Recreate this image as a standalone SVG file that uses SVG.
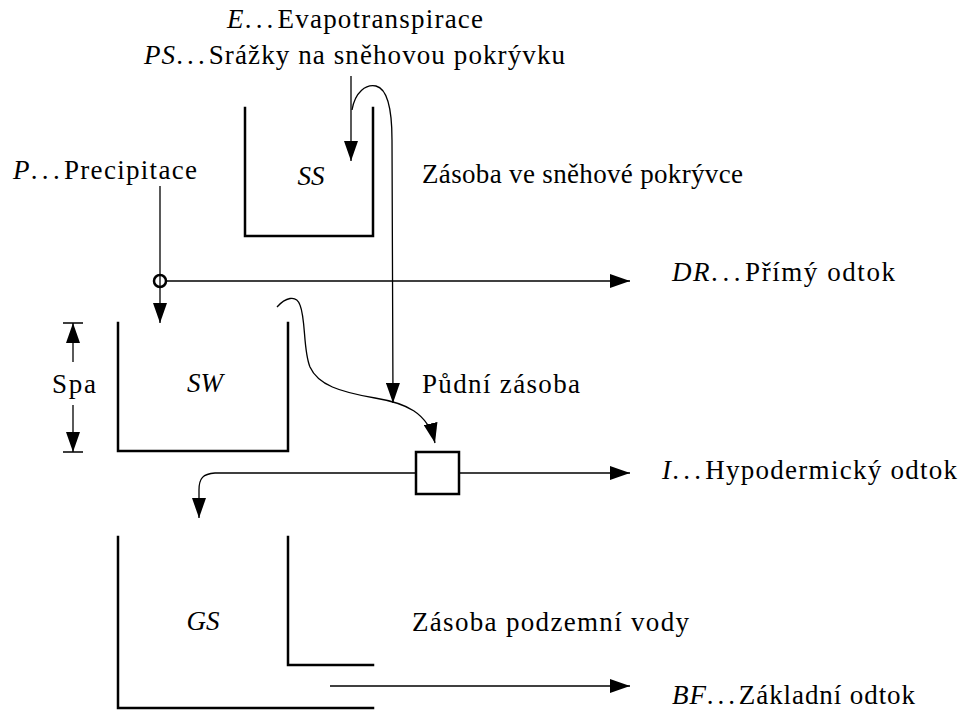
<svg xmlns="http://www.w3.org/2000/svg" width="962" height="713" viewBox="0 0 962 713">
<style>
.wall{fill:none;stroke:#000;stroke-width:2.5;stroke-linecap:square}
.c{fill:none;stroke:#000;stroke-width:1.3}
</style>
<defs>
<marker id="arr" markerUnits="userSpaceOnUse" markerWidth="20" markerHeight="14" refX="20" refY="7" orient="auto">
<path d="M0,0 L20,7 L0,14 z" fill="#000"/>
</marker>
</defs>
<g id="labels" font-family="Liberation Serif, serif" font-size="27" fill="#000">
<text x="227" y="28" textLength="256" lengthAdjust="spacing"><tspan font-style="italic">E</tspan><tspan letter-spacing="3">...</tspan>Evapotranspirace</text>
<text x="144" y="64" textLength="421" lengthAdjust="spacing"><tspan font-style="italic">PS</tspan><tspan letter-spacing="3">...</tspan>Srážky na sněhovou pokrývku</text>
<text x="13" y="179" textLength="184" lengthAdjust="spacing"><tspan font-style="italic">P</tspan><tspan letter-spacing="3">...</tspan>Precipitace</text>
<text x="422" y="183" textLength="321" lengthAdjust="spacing">Zásoba ve sněhové pokrývce</text>
<text x="672" y="281" textLength="223" lengthAdjust="spacing"><tspan font-style="italic">DR</tspan><tspan letter-spacing="3">...</tspan>Přímý odtok</text>
<text x="422" y="393" textLength="158" lengthAdjust="spacing">Půdní zásoba</text>
<text x="662" y="479" textLength="295" lengthAdjust="spacing"><tspan font-style="italic">I</tspan><tspan letter-spacing="3">...</tspan>Hypodermický odtok</text>
<text x="412" y="631" textLength="277" lengthAdjust="spacing">Zásoba podzemní vody</text>
<text x="672" y="704" textLength="243" lengthAdjust="spacing"><tspan font-style="italic">BF</tspan><tspan letter-spacing="3">...</tspan>Základní odtok</text>
</g>
<g id="SS">
<path class="wall" d="M245,108 V236 H373 V108"/>
<text font-family="Liberation Serif, serif" font-size="27" font-style="italic" x="311" y="185" text-anchor="middle">SS</text>
</g>
<g id="SW">
<path class="wall" d="M118,323 V451 H288 V323"/>
<text font-family="Liberation Serif, serif" font-size="27" font-style="italic" x="205" y="392" text-anchor="middle">SW</text>
</g>
<g id="GS">
<path class="wall" d="M118,537 V708 H373"/>
<path class="wall" d="M288,537 V665 H373"/>
<text font-family="Liberation Serif, serif" font-size="27" font-style="italic" x="203" y="630" text-anchor="middle">GS</text>
</g>
<g id="soil">
<rect x="416" y="452" width="43" height="42" fill="#fff" stroke="#000" stroke-width="2.5"/>
</g>
<g id="junction">
<circle cx="160" cy="281" r="6" fill="none" stroke="#000" stroke-width="2.5"/>
</g>
<g id="Spa">
<path class="c" d="M63,323 H83 M63,452 H83"/>
<line class="c" x1="73" y1="362" x2="73" y2="323" marker-end="url(#arr)"/>
<line class="c" x1="73" y1="405" x2="73" y2="452" marker-end="url(#arr)"/>
<text font-family="Liberation Serif, serif" font-size="27" x="52" y="393" textLength="44" lengthAdjust="spacing">Spa</text>
</g>
<g id="connectors">
<line class="c" x1="351" y1="76" x2="351" y2="161" marker-end="url(#arr)"/>
<path class="c" d="M352,110 C355,92 366,84 376,86 C388,89 392,110 392,140 L393,403" marker-end="url(#arr)"/>
<line class="c" x1="160" y1="186" x2="160" y2="323" marker-end="url(#arr)"/>
<line class="c" x1="166" y1="281" x2="630" y2="281" marker-end="url(#arr)"/>
<path class="c" d="M277,307 C285,298 296,294 300,305 C306,320 303,350 310,367 C318,385 340,392 375,398 C405,403 428,412 435,443" marker-end="url(#arr)"/>
<line class="c" x1="459" y1="473" x2="630" y2="473" marker-end="url(#arr)"/>
<path class="c" d="M416,473 L215,473 C203,474 199,478 199,490 L199,518" marker-end="url(#arr)"/>
<line class="c" x1="330" y1="686" x2="630" y2="686" marker-end="url(#arr)"/>
</g>
</svg>
